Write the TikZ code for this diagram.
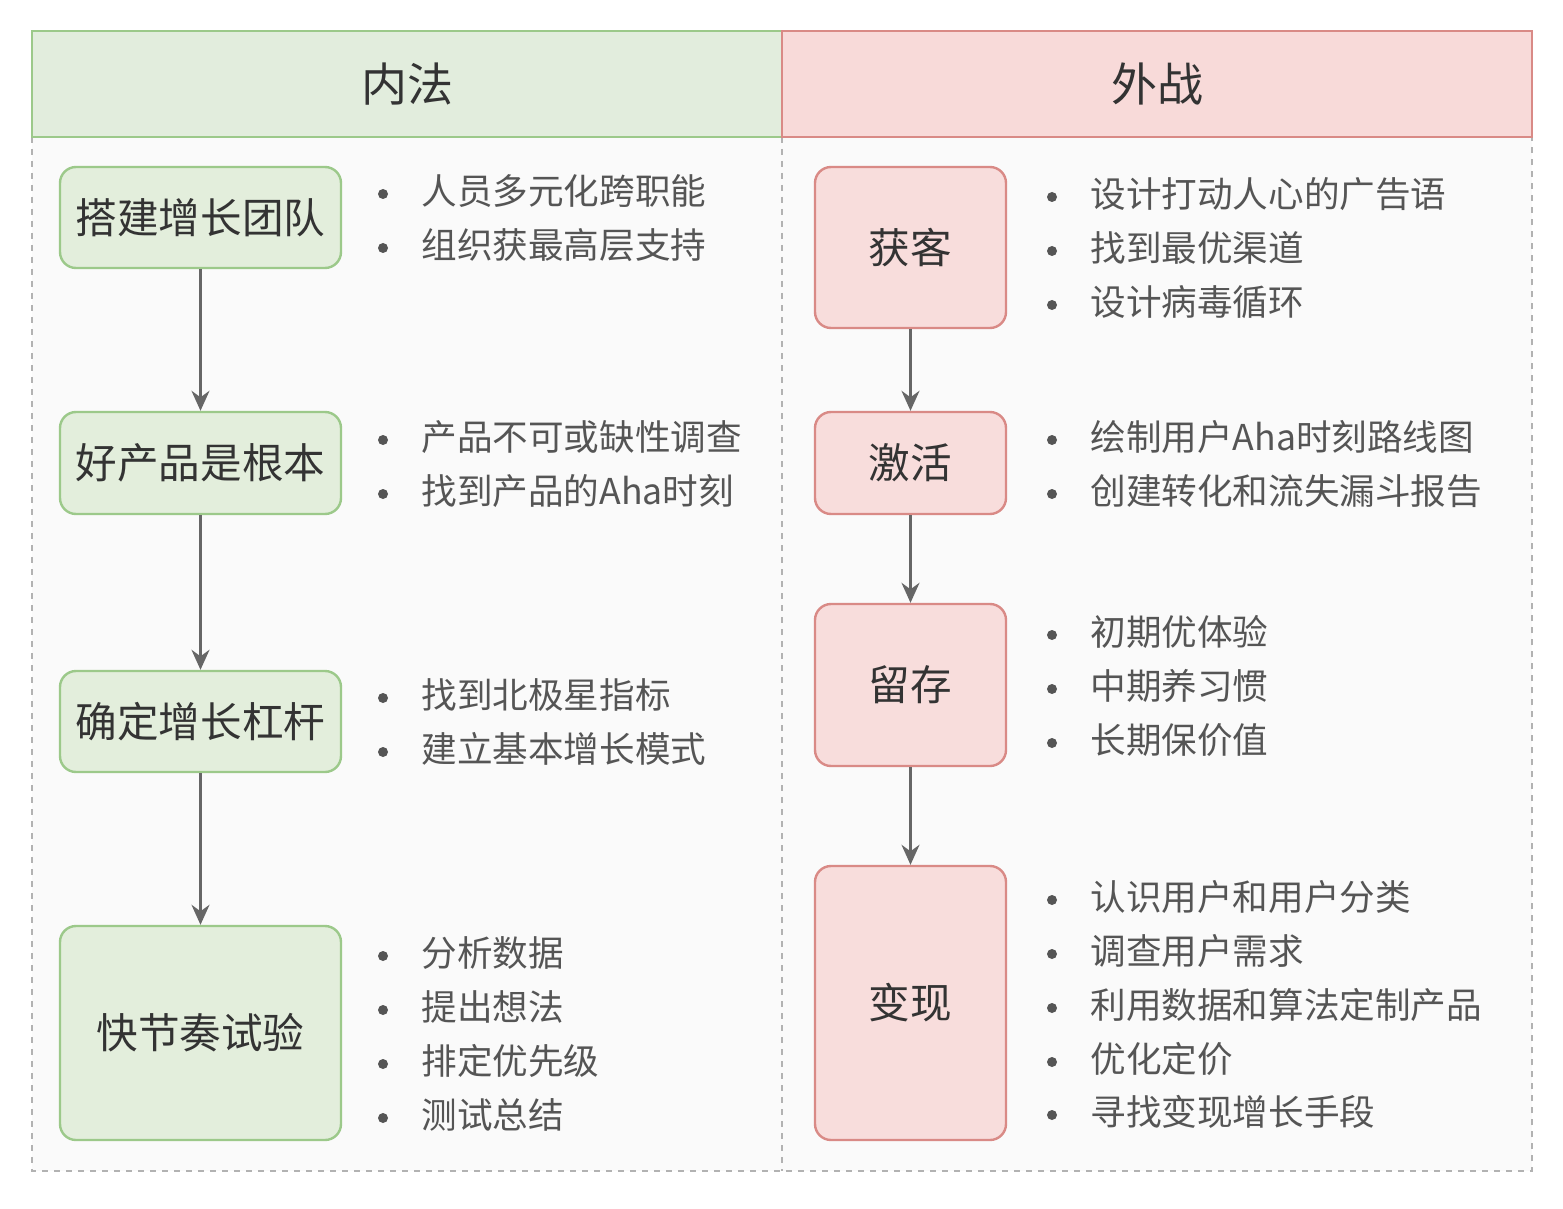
\documentclass[tikz,border=0pt]{standalone}
\usepackage{fontspec}
\setmainfont{Noto Sans CJK SC}
\usetikzlibrary{arrows.meta}
\definecolor{gfill}{HTML}{E3EEDC}\definecolor{gline}{HTML}{9CC98A}
\definecolor{rfill}{HTML}{F8DDDC}\definecolor{rline}{HTML}{D98A86}
\definecolor{hgfill}{HTML}{E2EDDD}\definecolor{hrfill}{HTML}{F8DAD9}
\definecolor{txt}{HTML}{333333}\definecolor{itxt}{HTML}{555555}
\tikzset{
 gbox/.style={draw=gline,fill=gfill,line width=1.2pt,rounded corners=8pt,text=txt,font=\fontsize{20.8}{24}\selectfont},
 rbox/.style={draw=rline,fill=rfill,line width=1.2pt,rounded corners=8pt,text=txt,font=\fontsize{20.8}{24}\selectfont},
 item/.style={anchor=west,text=itxt,font=\fontsize{17.8}{20}\selectfont,inner sep=0pt},
 bul/.style={circle,fill=itxt,inner sep=0pt,minimum size=5pt},
 arr/.style={draw=itxt!90,line width=1.3pt,-{Stealth[length=10pt,width=9pt]}},
 hdr/.style={line width=1.2pt,font=\fontsize{23}{27}\selectfont,text=txt}
}
\begin{document}
\begin{tikzpicture}[x=0.5pt,y=-0.5pt]
\useasboundingbox (0,0) rectangle (1563,1209);
\fill[white] (0,0) rectangle (1563,1209);
\fill[black!2] (32,137) rectangle (1532,1171);
\draw[black!30,dashed,line width=0.7pt] (32,137) -- (32,1171) -- (1532,1171) -- (1532,137);
\draw[black!30,dashed,line width=0.7pt] (782,137) -- (782,1171);
\node[hdr,draw=gline,fill=hgfill,minimum width=375pt,minimum height=53pt] (h1) at (407,84) {内法};
\node[hdr,draw=rline,fill=hrfill,minimum width=375pt,minimum height=53pt] (h2) at (1157,84) {外战};
% left
\node[gbox,minimum width=140.5pt,minimum height=50.5pt] (l1) at (200.5,217.5) {搭建增长团队};
\node[gbox,minimum width=140.5pt,minimum height=51pt] (l2) at (200.5,463) {好产品是根本};
\node[gbox,minimum width=140.5pt,minimum height=50.5pt] (l3) at (200.5,721.5) {确定增长杠杆};
\node[gbox,minimum width=140.5pt,minimum height=107pt] (l4) at (200.5,1033) {快节奏试验};
\draw[arr] (l1) -- (l2); \draw[arr] (l2) -- (l3); \draw[arr] (l3) -- (l4);
% right
\node[rbox,minimum width=95.5pt,minimum height=80.5pt] (r1) at (910.5,247.5) {获客};
\node[rbox,minimum width=95.5pt,minimum height=51pt] (r2) at (910.5,463) {激活};
\node[rbox,minimum width=95.5pt,minimum height=81pt] (r3) at (910.5,685) {留存};
\node[rbox,minimum width=95.5pt,minimum height=137pt] (r4) at (910.5,1003) {变现};
\draw[arr] (r1) -- (r2); \draw[arr] (r2) -- (r3); \draw[arr] (r3) -- (r4);
% lists
\foreach \y/\t [count=\i] in {191/人员多元化跨职能,245/组织获最高层支持,437/产品不可或缺性调查,491/找到产品的Aha时刻,695/找到北极星指标,749/建立基本增长模式,953/分析数据,1007/提出想法,1061/排定优先级,1115/测试总结}{
 \node[bul] (lb\i) at (383,\y+3) {};
 \node[item] (lt\i) at (421,\y) {\t};
}
\foreach \y/\t [count=\i] in {194/设计打动人心的广告语,248/找到最优渠道,302/设计病毒循环,437/绘制用户Aha时刻路线图,491/创建转化和流失漏斗报告,632/初期优体验,686/中期养习惯,740/长期保价值,897/认识用户和用户分类,951/调查用户需求,1005/利用数据和算法定制产品,1059/优化定价,1112/寻找变现增长手段}{
 \node[bul] (rb\i) at (1052,\y+3) {};
 \node[item] (rt\i) at (1090,\y) {\t};
}
\end{tikzpicture}
\end{document}
